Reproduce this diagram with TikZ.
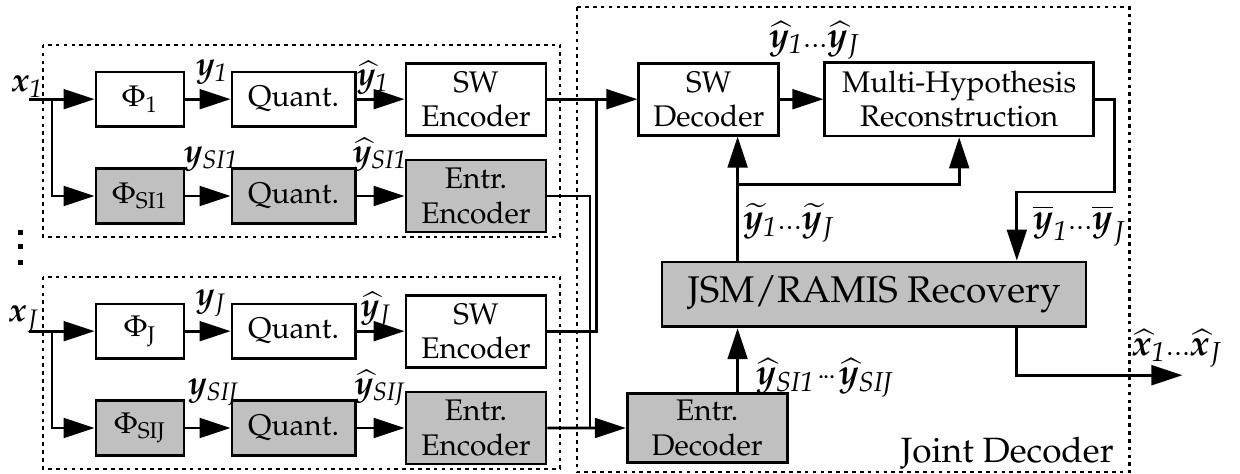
\documentclass[tikz,border=0pt]{standalone}
\usepackage[T1]{fontenc}
\usepackage{mathpazo}
\usepackage{bm}
\usetikzlibrary{arrows.meta}
\definecolor{boxgray}{RGB}{192,192,192}
\newcommand{\lodots}{\mbox{\normalsize.\kern0.4pt.\kern0.4pt.}}
\newcommand{\mddots}{\mbox{\normalsize$\mkern1mu{\cdot}\mkern-2mu{\cdot}\mkern-2mu{\cdot}\mkern1mu$}}

\begin{document}
\begin{tikzpicture}[
    blk/.style={draw, line width=1pt, align=center, inner sep=0pt, font=\fontsize{10.6}{12.2}\selectfont},
    siblk/.style={blk, fill=boxgray},
    phibox/.style={minimum width=1.1cm, minimum height=0.68cm},
    qbox/.style={minimum width=1.54cm, minimum height=0.68cm},
    encbox/.style={minimum width=1.75cm, minimum height=0.9cm},
    arr/.style={line width=1pt, -{Triangle[length=11pt,width=7pt]}},
    wire/.style={line width=1pt},
    grp/.style={line width=0.8pt, dash pattern=on 1.3pt off 1.5pt},
    lbl/.style={font=\large, inner sep=0pt, anchor=base},
    jlbl/.style={font=\fontsize{12.8}{15}\selectfont, inner sep=0pt, anchor=base west}]
  \useasboundingbox (0,0) rectangle (15.5,-5.925);

  % encoder 1
  \begin{scope}
    \draw[grp] (0.54,-0.56) rectangle (7.0,-2.96);
    \node[blk, phibox] (phi1) at (1.75,-1.24) {$\Phi_1$};
    \node[blk, qbox] (q1) at (3.67,-1.24) {Quant.};
    \node[blk, encbox] (sw1) at (5.95,-1.24) {SW\\Encoder};
    \node[siblk, phibox] (phisi1) at (1.75,-2.45) {$\Phi_{\mathrm{SI1}}$};
    \node[siblk, qbox] (qsi1) at (3.67,-2.45) {Quant.};
    \node[siblk, encbox] (en1) at (5.95,-2.45) {Entr.\\Encoder};

    \coordinate (in1) at (0.36,-1.24);
    \coordinate (br1) at (0.65,-1.24);
    \draw[arr] (in1) -- (phi1);
    \draw[arr] (br1) |- (phisi1);
    \draw[arr] (phi1) -- (q1);
    \draw[arr] (q1) -- (sw1);
    \draw[arr] (phisi1) -- (qsi1);
    \draw[arr] (qsi1) -- (en1);

    \node[lbl] (lx1) at (0.34,-1.15) {$\bm x_{\mathit 1}$};
    \node[lbl] (ly1) at (2.65,-0.95) {$\bm y_{\mathit 1}$};
    \node[lbl] (lyh1) at (4.66,-1.07) {$\widehat{\bm y}_{\mathit 1}$};
    \node[lbl] (lysi1) at (2.64,-2.03) {$\bm y_{\mathit{SI1}}$};
    \node[lbl] (lyhsi1) at (4.75,-2.03) {$\widehat{\bm y}_{\mathit{SI1}}$};
  \end{scope}

  % dots between the encoders
  \fill (0.225,-2.875) rectangle ++(0.065,-0.065);
  \fill (0.225,-3.05) rectangle ++(0.065,-0.065);
  \fill (0.225,-3.25) rectangle ++(0.065,-0.065);

  % encoder J
  \begin{scope}[yshift=-2.9cm]
    \draw[grp] (0.54,-0.56) rectangle (7.0,-2.96);
    \node[blk, phibox] (phiJ) at (1.75,-1.24) {$\Phi_{\mathrm{J}}$};
    \node[blk, qbox] (qJ) at (3.67,-1.24) {Quant.};
    \node[blk, encbox] (swJ) at (5.95,-1.24) {SW\\Encoder};
    \node[siblk, phibox] (phisiJ) at (1.75,-2.45) {$\Phi_{\mathrm{SIJ}}$};
    \node[siblk, qbox] (qsiJ) at (3.67,-2.45) {Quant.};
    \node[siblk, encbox] (enJ) at (5.95,-2.45) {Entr.\\Encoder};

    \coordinate (inJ) at (0.36,-1.24);
    \coordinate (brJ) at (0.65,-1.24);
    \draw[arr] (inJ) -- (phiJ);
    \draw[arr] (brJ) |- (phisiJ);
    \draw[arr] (phiJ) -- (qJ);
    \draw[arr] (qJ) -- (swJ);
    \draw[arr] (phisiJ) -- (qsiJ);
    \draw[arr] (qsiJ) -- (enJ);

    \node[lbl] (lxJ) at (0.30,-1.12) {$\bm x_J$};
    \node[lbl] (lyJ) at (2.64,-0.92) {$\bm y_J$};
    \node[lbl] (lyhJ) at (4.70,-1.06) {$\widehat{\bm y}_J$};
    \node[lbl] (lysiJ) at (2.67,-2.03) {$\bm y_{\mathit{SIJ}}$};
    \node[lbl] (lyhsiJ) at (4.75,-2.03) {$\widehat{\bm y}_{\mathit{SIJ}}$};
  \end{scope}

  % joint decoder
  \draw[grp] (7.21,-0.09) rectangle (14.12,-5.9);
  \node[blk, encbox] (swdec) at (8.86,-1.24) {SW\\Decoder};
  \node[blk, minimum width=3.36cm, minimum height=0.92cm] (mh) at (11.99,-1.24) {Multi-Hypothesis\\Reconstruction};
  \node[siblk, minimum width=5.3cm, minimum height=0.81cm, font=\fontsize{13.2}{16}\selectfont] (jsm) at (10.925,-3.68) {JSM/RAMIS Recovery};
  \node[siblk, minimum width=2cm, minimum height=0.86cm] (entrdec) at (8.84,-5.35) {Entr.\\Decoder};

  \coordinate (swjoin) at (7.46,-1.24);
  \coordinate (enjoin) at (7.375,-5.35);
  \coordinate (tcol) at (9.22,-2.31);
  \coordinate (bar) at (12.71,-2.4);
  \coordinate (xout) at (14.78,-4.69);

  \draw[arr] (sw1) -- (swdec);
  \draw[wire] (swJ) -| (swjoin);
  \draw[wire] (en1) -| (enjoin);
  \draw[arr] (enJ) -- (entrdec);
  \draw[arr] (swdec) -- (mh);
  \draw[arr] (entrdec.north -| tcol) -- (jsm.south -| tcol);
  \draw[arr] (jsm.north -| tcol) -- (swdec.south -| tcol);
  \draw[arr] (tcol) -| (mh.south);
  \draw[arr] (mh.east) -- ++(0.24,0) |- (bar) -- (jsm.north -| bar);
  \draw[arr] (jsm.south -| bar) |- (xout);

  \node[jlbl] (lyhall) at (9.6,-0.59) {$\widehat{\bm y}_{\mathit 1}\lodots\widehat{\bm y}_J$};
  \node[jlbl] (lytil) at (9.28,-2.87) {$\widetilde{\bm y}_{\mathit 1}\lodots\widetilde{\bm y}_J$};
  \node[jlbl] (lybar) at (12.9,-2.87) {$\overline{\bm y}_{\mathit 1}\lodots\overline{\bm y}_J$};
  \node[jlbl] (lyhsi) at (9.44,-4.81) {$\widehat{\bm y}_{\mathit{SI1}}\mddots\widehat{\bm y}_{\mathit{SIJ}}$};
  \node[jlbl] (lxh) at (14.14,-4.44) {$\widehat{\bm x}_{\mathit 1}\lodots\widehat{\bm x}_J$};
  \node[font=\fontsize{12.5}{15}\selectfont, anchor=base] (jdlbl) at (12.59,-5.78) {Joint Decoder};
\end{tikzpicture}
\end{document}
